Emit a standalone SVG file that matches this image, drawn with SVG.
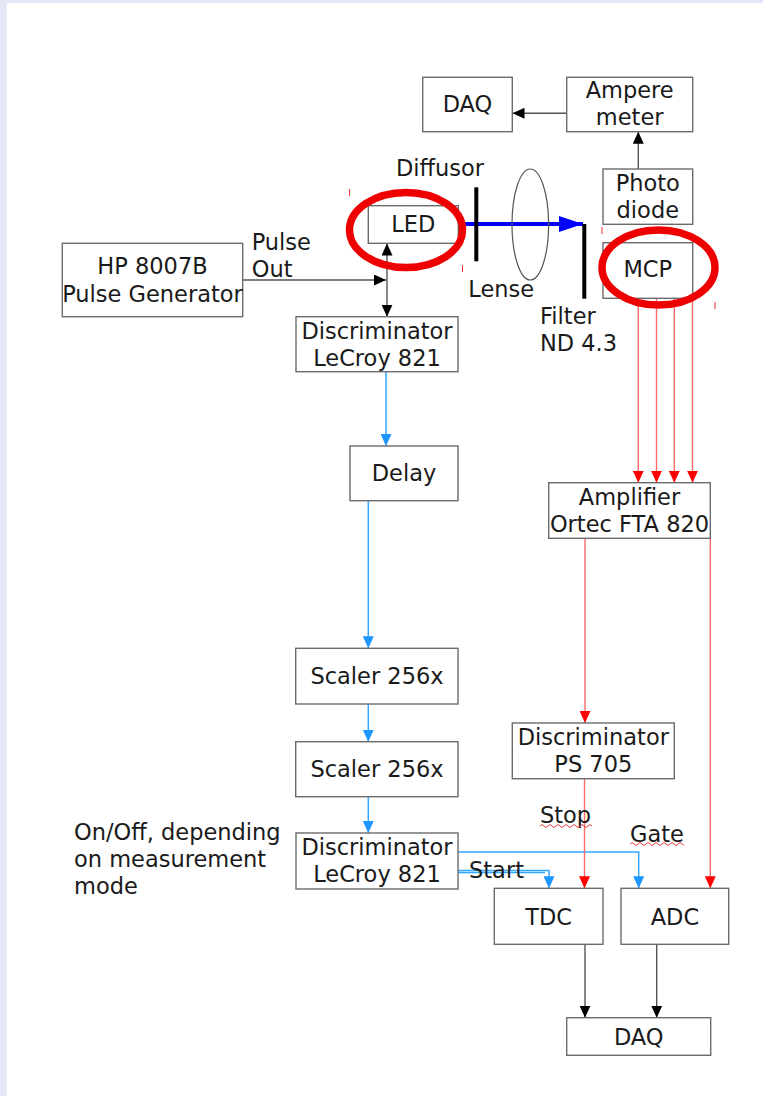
<svg xmlns="http://www.w3.org/2000/svg" width="763" height="1096" viewBox="0 0 763 1096">
<style>
.box{fill:#fff;stroke:#6b6b6b;stroke-width:1.4}
.t{font-family:"DejaVu Sans","Liberation Sans",sans-serif;font-size:22.5px;fill:#1a1a1a}
.m{text-anchor:middle}
.k{stroke:#555;stroke-width:1.4;fill:none}
.b{stroke:#33a6ff;stroke-width:1.5;fill:none}
.r{stroke:#ff6b6b;stroke-width:1.4;fill:none}
.ring{fill:none;stroke:#ee0000;stroke-width:7.5}
.tick{stroke:#f03030;stroke-width:1}
.wave{fill:none;stroke:#e04040;stroke-width:1}
</style>
<defs>
<marker id="ak" markerUnits="userSpaceOnUse" markerWidth="12" markerHeight="11" refX="12" refY="5.5" orient="auto"><path d="M0,0 L12,5.5 L0,11 z" fill="#000"/></marker>
<marker id="ab" markerUnits="userSpaceOnUse" markerWidth="12" markerHeight="11" refX="12" refY="5.5" orient="auto"><path d="M0,0 L12,5.5 L0,11 z" fill="#1e96ff"/></marker>
<marker id="ar" markerUnits="userSpaceOnUse" markerWidth="12" markerHeight="11" refX="12" refY="5.5" orient="auto"><path d="M0,0 L12,5.5 L0,11 z" fill="#ff0000"/></marker>
<marker id="abig" markerUnits="userSpaceOnUse" markerWidth="24" markerHeight="16" refX="24" refY="8" orient="auto"><path d="M0,0 L24,8 L0,16 z" fill="#0000ff"/></marker>
</defs>
<rect x="0" y="0" width="763" height="1096" fill="#fff"/>
<rect x="0" y="0" width="763" height="3" fill="#e2e6f6"/>
<rect x="0" y="0" width="7" height="1096" fill="#e4e8f7"/>

<g id="connectors">
<line class="k" x1="566.7" y1="113.3" x2="512.5" y2="113.3" marker-end="url(#ak)"/>
<line class="k" x1="638.3" y1="169" x2="638.3" y2="131.7" marker-end="url(#ak)"/>
<line class="k" x1="242.7" y1="280" x2="386" y2="280" marker-end="url(#ak)"/>
<line class="k" x1="387" y1="280" x2="387" y2="243.5" marker-end="url(#ak)"/>
<line class="k" x1="387" y1="280" x2="387" y2="316.7" marker-end="url(#ak)"/>
<line x1="458.5" y1="224" x2="583" y2="224" stroke="#0000ff" stroke-width="4" marker-end="url(#abig)"/>
<line class="b" x1="386" y1="372" x2="386" y2="446" marker-end="url(#ab)"/>
<line class="b" x1="368.3" y1="501" x2="368.3" y2="648.3" marker-end="url(#ab)"/>
<line class="b" x1="368.3" y1="704" x2="368.3" y2="741.7" marker-end="url(#ab)"/>
<line class="b" x1="368.3" y1="797" x2="368.3" y2="833" marker-end="url(#ab)"/>
<polyline class="b" points="458,852 638.7,852 638.7,888.3" marker-end="url(#ab)"/>
<polyline class="b" points="458,870.5 549,870.5 549,888.3" marker-end="url(#ab)"/>
<line class="b" x1="458" y1="872.5" x2="545" y2="872.5"/>
<line class="r" x1="638.3" y1="298.3" x2="638.3" y2="482.7" marker-end="url(#ar)"/>
<line class="r" x1="656.5" y1="298.3" x2="656.5" y2="482.7" marker-end="url(#ar)"/>
<line class="r" x1="674.3" y1="298.3" x2="674.3" y2="482.7" marker-end="url(#ar)"/>
<line class="r" x1="692.5" y1="298.3" x2="692.5" y2="482.7" marker-end="url(#ar)"/>
<line class="r" x1="585" y1="538.3" x2="585" y2="723" marker-end="url(#ar)"/>
<line class="r" x1="584.5" y1="778.7" x2="584.5" y2="888.3" marker-end="url(#ar)"/>
<line class="r" x1="710.3" y1="538.3" x2="710.3" y2="888.3" marker-end="url(#ar)"/>
<line class="k" x1="585" y1="944.3" x2="585" y2="1017.7" marker-end="url(#ak)"/>
<line class="k" x1="656.7" y1="944.3" x2="656.7" y2="1017.7" marker-end="url(#ak)"/>
</g>

<g id="daq-top"><rect class="box" x="422.7" y="77.3" width="89.6" height="54.4"/><text class="t m" x="467.5" y="111.7">DAQ</text></g>
<g id="ampere"><rect class="box" x="566.7" y="77.3" width="126" height="54.4"/><text class="t m" x="629.7" y="98.3">Ampere</text><text class="t m" x="629.7" y="125">meter</text></g>
<g id="photodiode"><rect class="box" x="603" y="169" width="89.7" height="55.3"/><text class="t m" x="647.8" y="191">Photo</text><text class="t m" x="647.8" y="217.7">diode</text></g>
<g id="led"><rect class="box" x="368.3" y="205.7" width="90" height="37.6"/><text class="t m" x="413.3" y="231.7">LED</text></g>
<g id="mcp"><rect class="box" x="603" y="242.7" width="89.7" height="55.6"/><text class="t m" x="647.8" y="277.3">MCP</text></g>
<g id="pulsegen"><rect class="box" x="62.3" y="243.3" width="180.4" height="73.4"/><text class="t m" x="152.5" y="274.3">HP 8007B</text><text class="t m" x="152.5" y="301.7">Pulse Generator</text></g>
<g id="disc1"><rect class="box" x="296" y="316.7" width="162" height="55"/><text class="t m" x="377" y="339.3">Discriminator</text><text class="t m" x="377" y="366">LeCroy 821</text></g>
<g id="delay"><rect class="box" x="350" y="446" width="108" height="54.7"/><text class="t m" x="404" y="480.7">Delay</text></g>
<g id="scaler1"><rect class="box" x="295.7" y="648.3" width="162.3" height="55.7"/><text class="t m" x="377" y="684.3">Scaler 256x</text></g>
<g id="scaler2"><rect class="box" x="295.7" y="741.7" width="162.3" height="55"/><text class="t m" x="377" y="776.7">Scaler 256x</text></g>
<g id="disc2"><rect class="box" x="296" y="833" width="162" height="56"/><text class="t m" x="377" y="855">Discriminator</text><text class="t m" x="377" y="882">LeCroy 821</text></g>
<g id="amplifier"><rect class="box" x="548.7" y="482.7" width="161.6" height="55.6"/><text class="t m" x="629.5" y="505">Amplifier</text><text class="t m" x="629.5" y="531.7">Ortec FTA 820</text></g>
<g id="disc-ps"><rect class="box" x="512.3" y="723" width="162" height="55.7"/><text class="t m" x="593.3" y="745">Discriminator</text><text class="t m" x="593.3" y="771.7">PS 705</text></g>
<g id="tdc"><rect class="box" x="494.3" y="888.3" width="108.7" height="56"/><text class="t m" x="548.6" y="925.3">TDC</text></g>
<g id="adc"><rect class="box" x="621" y="888.3" width="107.7" height="56"/><text class="t m" x="674.9" y="925.3">ADC</text></g>
<g id="daq-bottom"><rect class="box" x="566.7" y="1017.7" width="144" height="37.6"/><text class="t m" x="638.7" y="1045">DAQ</text></g>

<g id="optics">
<line x1="476.3" y1="187.3" x2="476.3" y2="261.3" stroke="#000" stroke-width="4"/>
<ellipse cx="530.3" cy="224.5" rx="18.3" ry="55.5" fill="none" stroke="#555" stroke-width="1.2"/>
<line x1="584.3" y1="224" x2="584.3" y2="298.7" stroke="#000" stroke-width="4"/>
</g>

<g id="labels">
<text class="t" x="396" y="176">Diffusor</text>
<text class="t" x="468.3" y="296.7">Lense</text>
<text class="t" x="540" y="324">Filter</text>
<text class="t" x="540" y="351">ND 4.3</text>
<text class="t" x="251.7" y="250">Pulse</text>
<text class="t" x="251.7" y="277.3">Out</text>
<text class="t" x="74" y="840">On/Off, depending</text>
<text class="t" x="74" y="867.3">on measurement</text>
<text class="t" x="74" y="894">mode</text>
<text class="t" x="540" y="822.7">Stop</text>
<text class="t" x="630" y="841.7">Gate</text>
<text class="t" x="469" y="878.3">Start</text>
<path class="wave" d="M540,826 l2,-1.5 l2,1.5 l2,1.5 l2,-1.5 l2,-1.5 l2,1.5 l2,1.5 l2,-1.5 l2,-1.5 l2,1.5 l2,1.5 l2,-1.5 l2,-1.5 l2,1.5 l2,1.5 l2,-1.5 l2,-1.5 l2,1.5 l2,1.5 l2,-1.5 l2,-1.5 l2,1.5 l2,1.5 l2,-1.5 l2,-1.5 l2,1.5"/>
<path class="wave" d="M630,844 l2,-1.5 l2,1.5 l2,1.5 l2,-1.5 l2,-1.5 l2,1.5 l2,1.5 l2,-1.5 l2,-1.5 l2,1.5 l2,1.5 l2,-1.5 l2,-1.5 l2,1.5 l2,1.5 l2,-1.5 l2,-1.5 l2,1.5 l2,1.5 l2,-1.5 l2,-1.5 l2,1.5 l2,1.5 l2,-1.5 l2,-1.5 l2,1.5 l2,1.5"/>
</g>

<g id="highlights">
<ellipse class="ring" cx="406" cy="230" rx="56.5" ry="37.5"/>
<ellipse class="ring" cx="658.5" cy="267.5" rx="56.5" ry="37.5"/>
<line class="tick" x1="349.5" y1="189" x2="349.5" y2="196"/>
<line class="tick" x1="462.5" y1="265" x2="462.5" y2="272"/>
<line class="tick" x1="602" y1="227" x2="602" y2="234"/>
<line class="tick" x1="715" y1="302" x2="715" y2="309"/>
</g>
</svg>
